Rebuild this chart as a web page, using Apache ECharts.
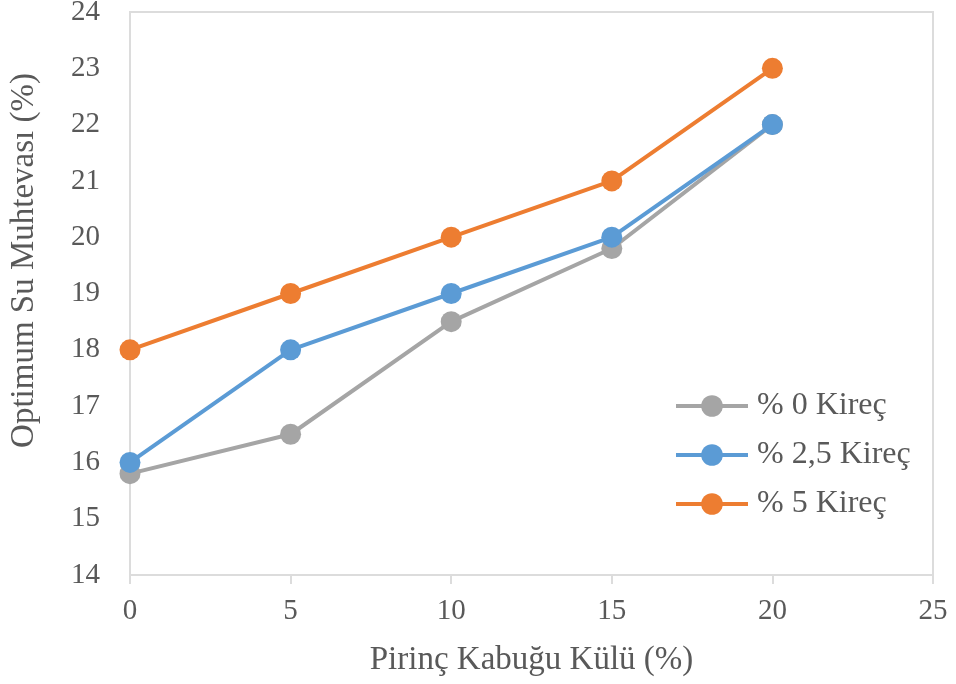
<!DOCTYPE html>
<html>
<head>
<meta charset="utf-8">
<script src="https://cdn.jsdelivr.net/npm/echarts@6/dist/echarts.min.js"></script>
<style>
html,body{margin:0;padding:0;background:#fff;}
#c{width:956px;height:684px;}
</style>
</head>
<body>
<div id="c"></div>
<script>
const xValues = [0, 5, 10, 15, 20];
const seriesNames = ['% 0 Kireç', '% 2,5 Kireç', '% 5 Kireç'];
const kirec0 = [15.8, 16.5, 18.5, 19.8, 22];
const kirec25 = [16, 18, 19, 20, 22];
const kirec5 = [18, 19, 20, 21, 23];
const xTitle = 'Pirinç Kabuğu Külü (%)';
const yTitle = 'Optimum Su Muhtevası (%)';

const colors = ['#A5A5A5', '#5B9BD5', '#ED7D31'];
const FONT = '"Liberation Serif", "Times New Roman", serif';
const TXT = '#595959';
const pair = arr => xValues.map((x, i) => [x, arr[i]]);
const datasets = [kirec0, kirec25, kirec5];

const chart = echarts.init(document.getElementById('c'));
chart.setOption({
  animation: false,
  backgroundColor: '#fff',
  grid: {left: 130, right: 23, top: 12, bottom: 109, show: true, borderColor: '#dcdcdc', borderWidth: 2,
         containLabel: false, outerBoundsMode: 'none'},
  xAxis: {
    type: 'value', min: 0, max: 25, interval: 5,
    name: xTitle, nameLocation: 'middle', nameGap: 69,
    nameTextStyle: {fontFamily: FONT, fontSize: 33, color: TXT},
    axisLine: {show: true, lineStyle: {color: '#dcdcdc', width: 2}},
    axisTick: {show: true, length: 9, lineStyle: {color: '#dcdcdc', width: 2}},
    splitLine: {show: false},
    axisLabel: {fontFamily: FONT, fontSize: 29, color: TXT, margin: 22}
  },
  yAxis: {
    type: 'value', min: 14, max: 24, interval: 1,
    name: yTitle, nameLocation: 'middle', nameGap: 89,
    nameTextStyle: {fontFamily: FONT, fontSize: 33, color: TXT, padding: [0, 0, 0, 66]},
    axisLine: {show: true, lineStyle: {color: '#dcdcdc', width: 2}},
    axisTick: {show: false},
    splitLine: {show: false},
    axisLabel: {fontFamily: FONT, fontSize: 29, color: TXT, margin: 30}
  },
  legend: {
    orient: 'vertical', left: 669, top: 385,
    itemWidth: 72, itemHeight: 27, itemGap: 17,
    lineStyle: {width: 4},
    textStyle: {fontFamily: FONT, fontSize: 32, color: TXT, padding: [0, 0, 0, 4]},
    data: seriesNames
  },
  series: datasets.map((d, i) => ({
    name: seriesNames[i], type: 'line', data: pair(d),
    symbol: 'circle', symbolSize: 21,
    lineStyle: {color: colors[i], width: 4},
    itemStyle: {color: colors[i]}
  }))
});
</script>
</body>
</html>
